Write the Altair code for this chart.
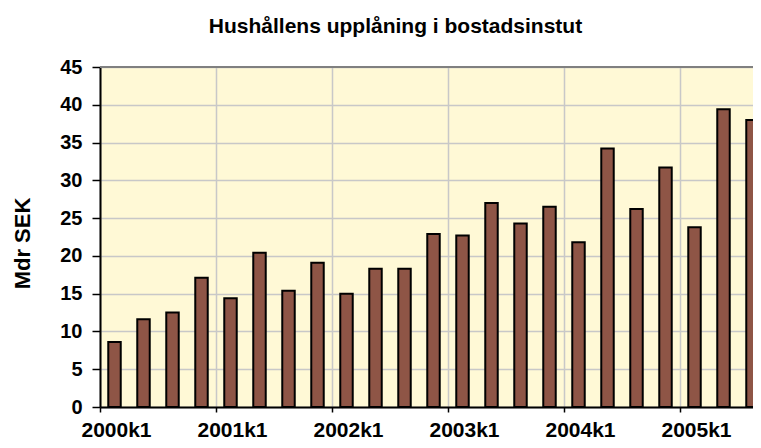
import altair as alt
import pandas as pd

quarters = [
    "2000k1", "2000k2", "2000k3", "2000k4",
    "2001k1", "2001k2", "2001k3", "2001k4",
    "2002k1", "2002k2", "2002k3", "2002k4",
    "2003k1", "2003k2", "2003k3", "2003k4",
    "2004k1", "2004k2", "2004k3", "2004k4",
    "2005k1", "2005k2", "2005k3",
]
values = [
    8.6, 11.6, 12.5, 17.1,
    14.4, 20.4, 15.4, 19.1,
    15.0, 18.3, 18.3, 22.9,
    22.7, 27.0, 24.3, 26.5,
    21.8, 34.2, 26.2, 31.7,
    23.8, 39.4, 38.0,
]
year_labels = ["2000k1", "2001k1", "2002k1", "2003k1", "2004k1", "2005k1"]
y_ticks = [0, 5, 10, 15, 20, 25, 30, 35, 40, 45]
y_top = [45]

FONT = "Liberation Sans"

df = pd.DataFrame({"kvartal": quarters, "mdr": values})
top_df = pd.DataFrame({"mdr": y_top})

y_axis = alt.Axis(
    values=y_ticks, title="Mdr SEK", labelOverlap=False, labelFlush=False,
    titleFont=FONT, titleFontSize=22, titleFontWeight="bold",
    titleColor="black", titleAngle=-90, titleX=-78, titleY=176,
    titleAlign="center", titleBaseline="middle",
    grid=True, gridColor="#C8C8C8", gridWidth=1.5,
    domainColor="black", domainWidth=2,
    tickColor="black", tickSize=8, tickWidth=1.5,
    labelFont=FONT, labelFontSize=20, labelFontWeight="bold",
    labelColor="black", labelPadding=10,
)
y_scale = alt.Scale(domain=[0, 45], nice=False)

bars = (
    alt.Chart(df)
    .mark_bar(fill="#8E5546", stroke="black", strokeWidth=2)
    .encode(
        x=alt.X(
            "kvartal:N",
            sort=quarters,
            scale=alt.Scale(paddingInner=0.57, paddingOuter=0.285, range=[0, 667]),
            axis=alt.Axis(
                values=year_labels, tickOffset=-14.5, labelOffset=16,
                labelAngle=0, title=None, labelOverlap=False,
                grid=True, gridColor="#C8C8C8", gridWidth=1.5,
                domainColor="black", domainWidth=2,
                tickColor="black", tickSize=5, tickWidth=1.5,
                labelFont=FONT, labelFontSize=21, labelFontWeight="bold",
                labelColor="black", labelPadding=24, labelBaseline="alphabetic",
            ),
        ),
        y=alt.Y("mdr:Q", scale=y_scale, axis=y_axis),
    )
)

top_border = (
    alt.Chart(top_df)
    .mark_rule(color="#808080", strokeWidth=2)
    .encode(y=alt.Y("mdr:Q", scale=y_scale, axis=y_axis))
)

chart = (
    alt.layer(bars, top_border)
    .properties(
        title=alt.Title(
            "Hushållens upplåning i bostadsinstut",
            font=FONT, fontSize=21, fontWeight="bold", color="black",
            anchor="middle", frame="group", dx=-31, dy=10, offset=9,
            baseline="bottom",
        ),
        width=653, height=340,
        autosize=alt.AutoSizeParams(type="none"),
        padding={"left": 92, "top": 59, "right": 0, "bottom": 33},
    )
    .configure_view(fill="#FFF9D6", stroke=None)
)

chart.save("out.html", embed_options={"renderer": "svg", "actions": False})
